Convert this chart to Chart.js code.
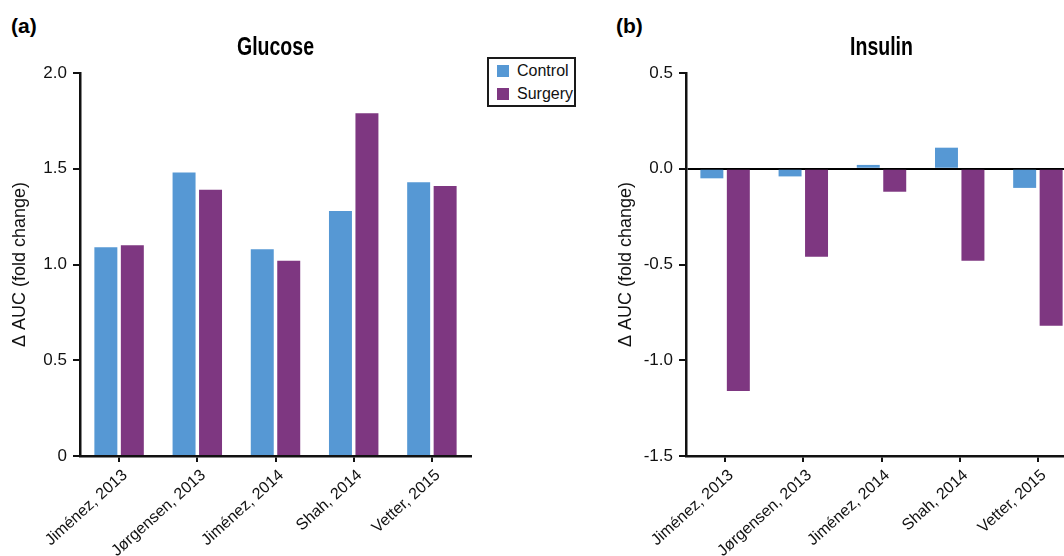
<!DOCTYPE html>
<html>
<head>
<meta charset="utf-8">
<script src="https://cdn.jsdelivr.net/npm/chart.js@4.4.1/dist/chart.umd.min.js"></script>
<style>
  html, body { margin: 0; padding: 0; background: #fff; width: 1064px; height: 556px; overflow: hidden; }
  .panel { position: absolute; top: 0; }
  .tag { position: absolute; top: 14px; font: bold 21px "Liberation Sans", Arial, sans-serif; color: #000; }
  #legend { position: absolute; left: 487px; top: 57px; width: 85px; height: 46px;
            border: 2px solid #1a1a1a; font: 16px "Liberation Sans", Arial, sans-serif; color: #111; }
  #legend .row { height: 23px; display: flex; align-items: center; }
  #legend .sw { width: 12px; height: 12px; margin: 0 8px 0 8px; }
</style>
</head>
<body>
<div class="tag" style="left:11px">(a)</div>
<div class="tag" style="left:616px">(b)</div>
<canvas id="glucose" class="panel" style="left:0" width="480" height="556"></canvas>
<canvas id="insulin" class="panel" style="left:600px" width="480" height="556"></canvas>
<div id="legend"></div>
<script>
// data
const studies = ["Jiménez, 2013", "Jørgensen, 2013", "Jiménez, 2014", "Shah, 2014", "Vetter, 2015"];
const seriesNames = ["Control", "Surgery"];
const seriesColors = ["#5698d4", "#7e3781"];

const glucoseControl = [1.09, 1.48, 1.08, 1.28, 1.43];
const glucoseSurgery = [1.10, 1.39, 1.02, 1.79, 1.41];
const insulinControl = [-0.05, -0.04, 0.02, 0.11, -0.10];
const insulinSurgery = [-1.16, -0.46, -0.12, -0.48, -0.82];

const glucoseTickLabels = ["0", "0.5", "1.0", "1.5", "2.0"];
const insulinTickLabels = ["-1.5", "-1.0", "-0.5", "0.0", "0.5"];

const yTitle = "\u0394 AUC (fold change)";
const FONT = '"Liberation Sans", Arial, sans-serif';

Chart.defaults.font.family = FONT;
Chart.defaults.color = "#111";

// the panel titles are set in a narrow bold face; squeeze a normal bold one
const condensedTitle = {
  id: "condensedTitle",
  afterDraw(chart, args, opts) {
    const { ctx, chartArea } = chart;
    ctx.save();
    ctx.font = "bold 25px " + FONT;
    ctx.fillStyle = "#000";
    ctx.textAlign = "center";
    ctx.textBaseline = "alphabetic";
    ctx.translate((chartArea.left + chartArea.right) / 2, chartArea.top - 18);
    ctx.scale(0.78, 1);
    ctx.fillText(opts.text, 0, 0);
    ctx.restore();
  },
};

function buildLegend() {
  const el = document.getElementById("legend");
  seriesNames.forEach(function (name, i) {
    const row = document.createElement("div");
    row.className = "row";
    const sw = document.createElement("span");
    sw.className = "sw";
    sw.style.background = seriesColors[i];
    row.appendChild(sw);
    row.appendChild(document.createTextNode(name));
    el.appendChild(row);
  });
}

function makeChart(id, title, control, surgery, min, max, tickLabels, opt) {
  const ctx = document.getElementById(id);
  return new Chart(ctx, {
    type: "bar",
    data: {
      labels: studies,
      datasets: [
        { label: seriesNames[0], data: control, backgroundColor: seriesColors[0] },
        { label: seriesNames[1], data: surgery, backgroundColor: seriesColors[1] },
      ],
    },
    plugins: [condensedTitle],
    options: {
      responsive: false,
      animation: false,
      devicePixelRatio: 1,
      categoryPercentage: 0.677,
      barPercentage: 0.868,
      layout: { padding: { left: 0, right: opt.padRight, top: 73, bottom: 0 } },
      plugins: {
        legend: { display: false },
        tooltip: { enabled: false },
        title: { display: false },
        condensedTitle: { text: title },
      },
      scales: {
        x: {
          offset: true,
          border: { display: true, color: "#111", width: 2.5 },
          grid: { display: true, offset: false, drawOnChartArea: false,
                  tickColor: "#111", tickLength: 6, lineWidth: 2 },
          ticks: { autoSkip: false, minRotation: 42, maxRotation: 42, padding: 4, labelOffset: 6,
                   font: { size: 16 }, color: "#111" },
          afterFit: function (s) { s.height = 100; },
        },
        y: {
          min: min,
          max: max,
          border: { display: true, color: "#111", width: 2.5 },
          grid: {
            drawOnChartArea: opt.zeroLine,
            color: function (c) { return c.tick && c.tick.value === 0 ? "#000" : "rgba(0,0,0,0)"; },
            lineWidth: 2,
            tickColor: "#111",
            tickLength: 7,
          },
          ticks: {
            stepSize: 0.5,
            padding: 6,
            font: { size: 17 },
            color: "#111",
            callback: function (v, i) { return tickLabels[i]; },
          },
          title: {
            display: true,
            text: yTitle,
            color: "#111",
            font: { size: 18 },
            padding: { top: opt.titlePad, bottom: 0 },
          },
          afterFit: function (s) { s.width = opt.yWidth; },
        },
      },
    },
  });
}

buildLegend();
makeChart("glucose", "Glucose", glucoseControl, glucoseSurgery, 0, 2, glucoseTickLabels,
  { yWidth: 80, padRight: 9, titlePad: 9, zeroLine: false });
makeChart("insulin", "Insulin", insulinControl, insulinSurgery, -1.5, 0.5, insulinTickLabels,
  { yWidth: 86, padRight: 3, titlePad: 15, zeroLine: true });
</script>
</body>
</html>
